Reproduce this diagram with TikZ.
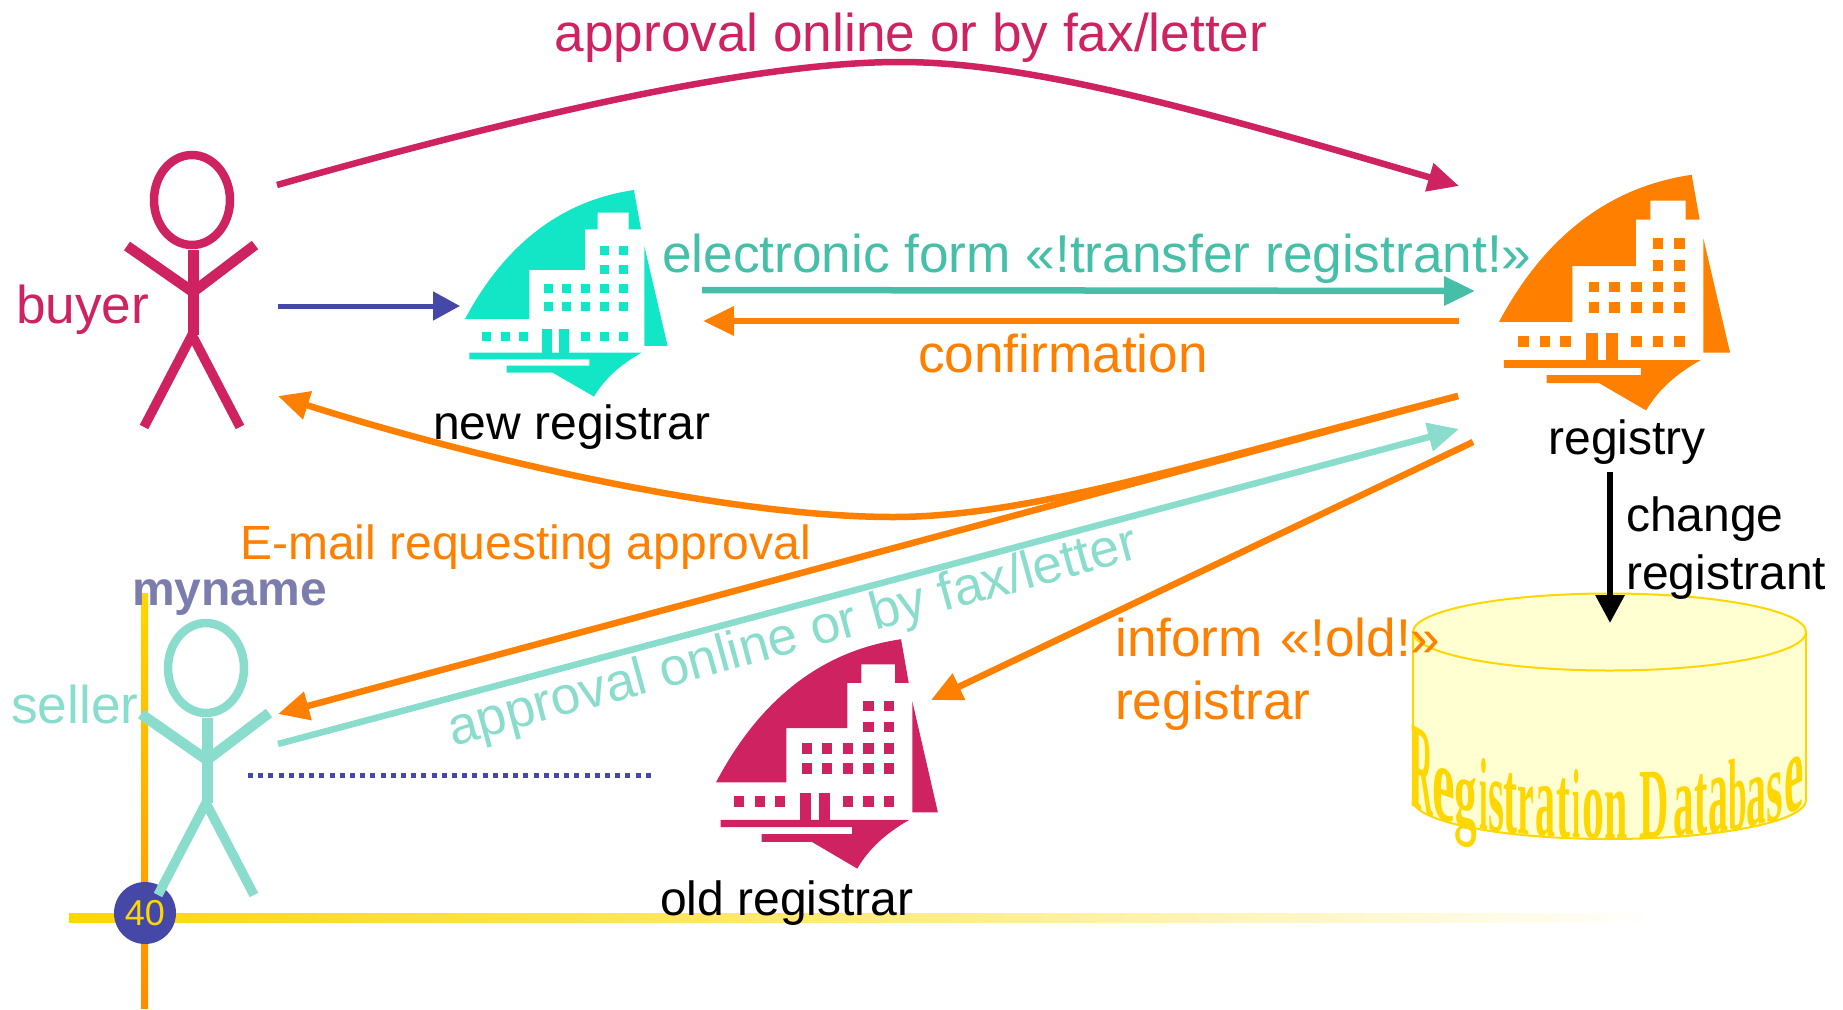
\documentclass[tikz,border=0pt]{standalone}
\usepackage{fontspec}
\usepackage{graphicx}
\setmainfont{Liberation Sans}
\newfontfamily\dbfont{Liberation Serif}[BoldFont={Liberation Serif Bold}]
\usetikzlibrary{arrows.meta,shapes.geometric}
\definecolor{crim}{HTML}{CF2260}
\definecolor{aqua}{HTML}{13E6C6}
\definecolor{formgreen}{HTML}{45BFA8}
\definecolor{mint}{HTML}{8ADDCC}
\definecolor{orng}{HTML}{FF8000}
\definecolor{indi}{HTML}{4648A8}
\definecolor{slate}{HTML}{7B7DAD}
\definecolor{gold}{HTML}{FFD700}
\definecolor{dbfill}{HTML}{FFFFD2}
\definecolor{axisor}{HTML}{FF8C00}
\tikzset{
  lbl/.style={inner sep=0pt,anchor=base west,font=\fontsize{53.2}{58}\selectfont},
  lblc/.style={inner sep=0pt,anchor=base,font=\fontsize{53.2}{58}\selectfont},
  blk/.style={inner sep=0pt,anchor=base,text=black,font=\fontsize{48}{52}\selectfont},
  conn/.style={line width=6.5pt,-{Triangle[length=31pt,width=28pt]}},
}
% building icon, drawn in the coordinates of a 3x crop
\newcommand{\bldg}[4]{%
\begin{scope}[shift={(#1,#2)},#3]
\fill[#4] (75,447) .. controls (180,250) and (340,95) .. (582,60) -- (603,178) -- (566,178) -- (566,128) -- (473,128) -- (473,178) -- (435,178) -- (435,300) -- (268,300) -- (268,447) -- cycle;
\fill[#4] (613,228) -- (683,528) -- (613,528) -- cycle;
\fill[#4] (88,548) -- (605,548) .. controls (540,585) and (495,625) .. (462,680) -- (338,608) -- (200,608) -- (200,587) -- (448,587) -- (448,568) -- (88,568) -- cycle;
\fill[#4] (305,477) rectangle (336,549);
\fill[#4] (356,477) rectangle (387,549);
\foreach \wx/\wy in {493/241,550/241,493/298,550/298,325/355,379/355,436/355,493/355,550/355,325/409,379/409,436/409,493/409,550/409,139/499,196/499,250/499,436/499,493/499,550/499}
  \fill[#4] (\wx-14,\wy-14) rectangle (\wx+14,\wy+14);
\end{scope}}
% stick figure
\newcommand{\stick}[3]{%
\begin{scope}[shift={(#1,#2)},#3]
\draw[line width=8.5pt] (0,0) ellipse (38 and 45);
\draw[line width=11pt] (1,50) -- (1,135);
\draw[line width=10.5pt] (-65,46) -- (1,92) -- (63,45);
\draw[line width=9.5pt] (-48,227) -- (0,135) -- (48,227);
\end{scope}}
% one letter of the word-art text
\newcommand{\dbl}[6]{%
\node[inner sep=0pt,anchor=base,text=gold,yslant=#5] at ({1400+#1/3},{570+#2/3}) {\dbfont\bfseries\scalebox{0.3333}{\resizebox{#3pt}{#4pt}{#6}}};}
\begin{document}
\begin{tikzpicture}[x=1pt,y=-1pt]
\useasboundingbox (0,0) rectangle (1843,1009);
% axes
\shade[left color=gold,right color=white] (69,913) rectangle (1660,922);
\shade[top color=gold,bottom color=axisor] (141,593) rectangle (148,1008);
\node[circle,fill=indi,minimum size=62pt,inner sep=0pt,text=gold,font=\fontsize{36}{40}\selectfont] (num) at (145,913) {40};
% figures
\stick{192}{200}{draw=crim}
\stick{206}{668}{draw=mint}
% buildings
\bldg{440}{170}{scale=0.3333}{aqua}
\bldg{1470.5}{152}{scale=0.38}{orng}
\bldg{688.6}{617}{xscale=0.365,yscale=0.37}{crim}
% database
\draw[gold,line width=2pt,fill=dbfill] (1413,632) -- (1413,800) arc[start angle=180,end angle=360,x radius=196.5,y radius=-39] -- (1806,632);
\draw[gold,line width=2pt,fill=dbfill] (1609.5,632) ellipse (196.5 and 38.5);
\dbl{67}{723}{65}{243}{-0.55}{R}
\dbl{130}{752}{68}{155}{-0.35}{e}
\dbl{197}{769}{68}{150}{-0.22}{g}
\dbl{250}{778}{26}{213}{-0.17}{i}
\dbl{288}{784}{48}{149}{-0.13}{s}
\dbl{330}{789}{42}{179}{-0.1}{t}
\dbl{378}{794}{50}{144}{-0.1}{r}
\dbl{437}{799}{60}{149}{-0.06}{a}
\dbl{490}{802}{42}{177}{-0.04}{t}
\dbl{530}{803}{24}{205}{-0.02}{i}
\dbl{580}{805}{66}{145}{0}{o}
\dbl{648}{805}{70}{140}{0}{n}
\dbl{763}{802}{88}{197}{0.05}{D}
\dbl{850}{796}{62}{146}{0.1}{a}
\dbl{903}{792}{40}{177}{0.12}{t}
\dbl{955}{787}{60}{162}{0.14}{a}
\dbl{1012}{778}{56}{213}{0.2}{b}
\dbl{1070}{766}{60}{141}{0.25}{a}
\dbl{1125}{751}{50}{141}{0.35}{s}
\dbl{1181}{724}{58}{159}{0.55}{e}
% anchors of connectors
\coordinate (buyerTop) at (277,185);
\coordinate (regTop) at (1459,186);
\coordinate (buyerOut) at (278,306);
\coordinate (newIn) at (460,306);
\coordinate (newOut) at (702,290);
\coordinate (regIn) at (1475,291);
\coordinate (regOut) at (1459,321);
\coordinate (newBack) at (703,321);
\coordinate (regMail) at (1458,396);
\coordinate (buyerBack) at (278,396);
\coordinate (sellerIn) at (278,714);
\coordinate (sellerOut) at (278,744);
\coordinate (regAppr) at (1459,429);
\coordinate (regInform) at (1473,442);
\coordinate (oldIn) at (931,700);
\coordinate (regDown) at (1610,472);
\coordinate (dbIn) at (1610,623);
\coordinate (sellerDot) at (248,775);
\coordinate (oldDot) at (653,775);
% labels drawn under the connectors
\node[lblc,text=mint,rotate=15.3] (t15) at (797,652) {approval online or by fax/letter};
% connectors
\draw[conn,crim] (buyerTop) .. controls (640,82) and (810,62) .. (900,62) .. controls (1030,62) and (1200,110) .. (regTop);
\draw[indi,line width=5pt,-{Triangle[length=27pt,width=28pt]}] (buyerOut) -- (newIn);
\draw[conn,formgreen] (newOut) -- (regIn);
\draw[conn,orng] (regOut) -- (newBack);
\draw[conn,orng] (regMail) .. controls (1200,462) and (1030,517) .. (893,517) .. controls (730,517) and (480,460) .. (buyerBack);
\draw[conn,orng] (regMail) -- (sellerIn);
\draw[conn,mint] (sellerOut) -- (regAppr);
\draw[conn,orng] (regInform) -- (oldIn);
\draw[black,line width=6pt,-{Triangle[length=28pt,width=28pt]}] (regDown) -- (dbIn);
\draw[indi,line width=5pt,dash pattern=on 5pt off 5.2pt] (sellerDot) -- (oldDot);
% labels
\node[lblc,text=crim] (t1) at (911,51) {approval online or by fax/letter};
\node[lbl,text=crim] (t2) at (16,323) {buyer};
\node[lbl,text=formgreen] (t3) at (662,272) {electronic form «!transfer registrant!»};
\node[lblc,text=orng] (t4) at (1063,372) {confirmation};
\node[blk] (t5) at (572,439) {new registrar};
\node[blk] (t6) at (1627,454) {registry};
\node[blk] (t7) at (787,915) {old registrar};
\node[blk,anchor=base west] (t8) at (1626,531) {change};
\node[blk,anchor=base west] (t9) at (1626,589) {registrant};
\node[lbl,text=orng,font=\fontsize{48}{52}\selectfont] (t10) at (240,559) {E-mail requesting approval};
\node[lbl,text=orng] (t11) at (1115,656) {inform\hspace{3pt} «!old!»};
\node[lbl,text=orng] (t12) at (1115,719) {registrar};
\node[lbl,text=mint] (t13) at (11,723) {seller};
\node[lbl,text=slate,font=\fontsize{48}{52}\selectfont\bfseries] (t14) at (132,605) {myname};
\end{tikzpicture}
\end{document}
